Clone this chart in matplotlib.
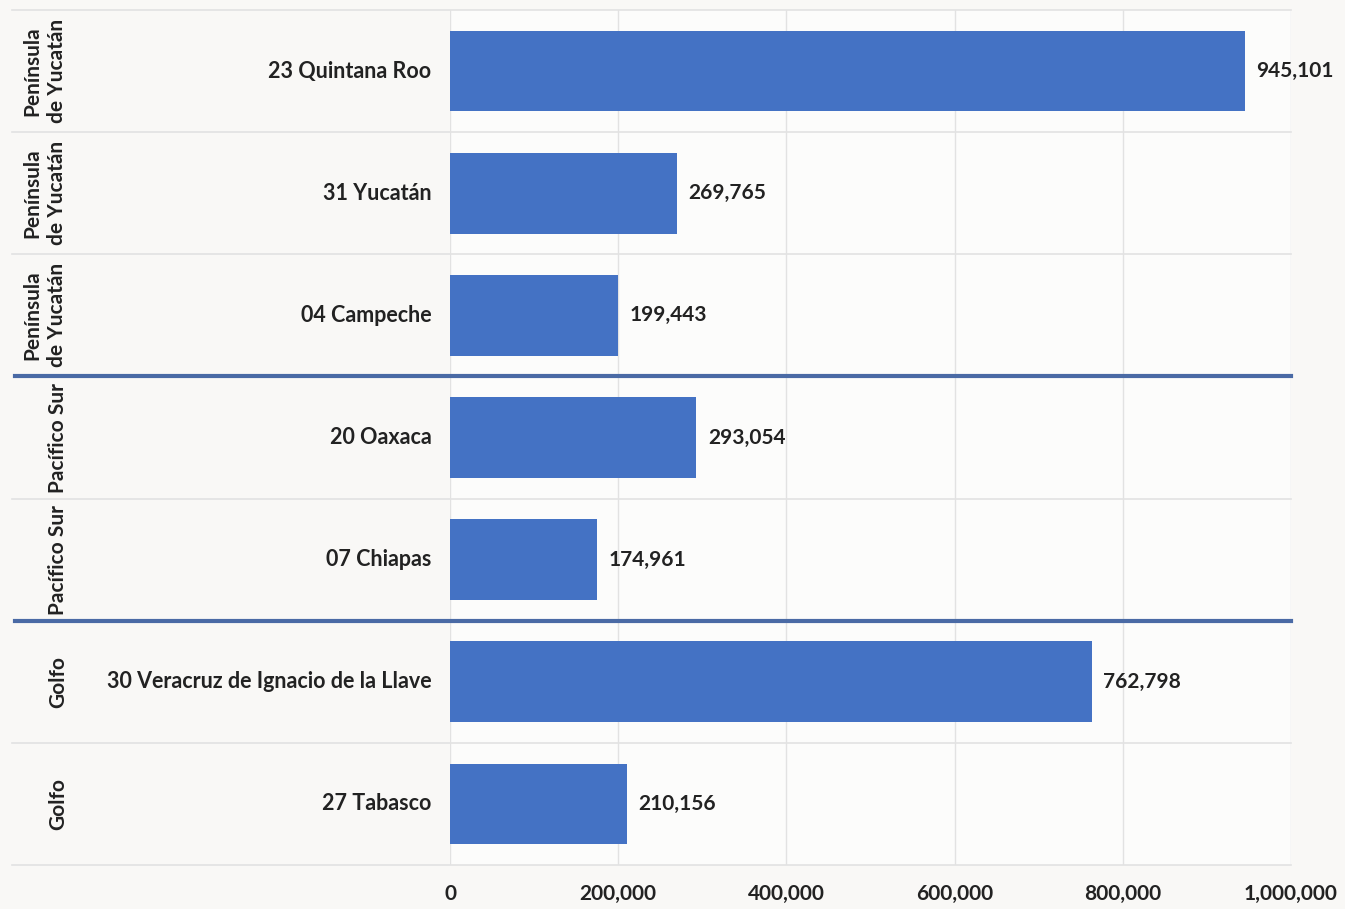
import matplotlib.pyplot as plt
from matplotlib.ticker import FuncFormatter
import matplotlib.transforms as mtransforms

# data
estados = ["23 Quintana Roo", "31 Yucatán", "04 Campeche", "20 Oaxaca",
           "07 Chiapas", "30 Veracruz de Ignacio de la Llave", "27 Tabasco"]
regiones = ["Península\nde Yucatán", "Península\nde Yucatán", "Península\nde Yucatán",
            "Pacífico Sur", "Pacífico Sur", "Golfo", "Golfo"]
valores = [945101, 269765, 199443, 293054, 174961, 762798, 210156]

plt.rcParams['font.family'] = ['Lato', 'DejaVu Sans']
plt.rcParams['font.weight'] = 'bold'

bg = '#f9f8f6'
fig = plt.figure(figsize=(13.45, 9.09), dpi=100, facecolor=bg)
ax = fig.add_axes([450/1345, 1 - 865/909, 841/1345, 855/909])
ax.set_facecolor('#fcfcfb')

n = len(valores)
ypos = list(range(n))
ax.barh(ypos, valores, height=0.66, color='#4472C4', zorder=3)
ax.set_ylim(n - 0.5, -0.5)
ax.set_xlim(0, 1000000)
ax.set_xticks(range(0, 1000001, 200000))
ax.xaxis.set_major_formatter(FuncFormatter(lambda v, p: f"{int(v):,}"))
ax.tick_params(axis='x', length=0, pad=14, labelsize=15, labelcolor='#222222')
ax.tick_params(axis='y', length=0)
ax.set_yticks([])
ax.grid(axis='x', color='#e2e2e2', linewidth=1, zorder=0)
for s in ax.spines.values():
    s.set_visible(False)

# value labels
for y, v in zip(ypos, valores):
    ax.text(v + 14000, y, f"{v:,}", va='center', ha='left', fontsize=15,
            fontweight='bold', color='#222222')

# row lines and group separators extending into label area
tr = mtransforms.blended_transform_factory(ax.transAxes, ax.transData)
x_left = (12 - 450) / 841
for k in range(n + 1):
    yb = k - 0.5
    if k in (3, 5):
        ax.plot([x_left + 0.003, 1], [yb, yb], transform=tr, color='#4a6aa5',
                linewidth=3, clip_on=False, zorder=4)
    else:
        ax.plot([x_left, 1], [yb, yb], transform=tr, color='#e2e2e2',
                linewidth=1.2, clip_on=False, zorder=1)

# state labels and region labels
for y, est, reg in zip(ypos, estados, regiones):
    ax.text(-22000, y, est, ha='right', va='center', fontsize=15.5,
            fontweight='bold', color='#222222')
    xr = 45 if '\n' in reg else 58
    ax.text((xr - 450) / 841, y, reg, transform=tr, rotation=90, ha='center',
            va='center', fontsize=15, fontweight='bold', color='#222222',
            linespacing=1.3, multialignment='center')

fig.savefig('out.png', dpi=100, facecolor=bg)
